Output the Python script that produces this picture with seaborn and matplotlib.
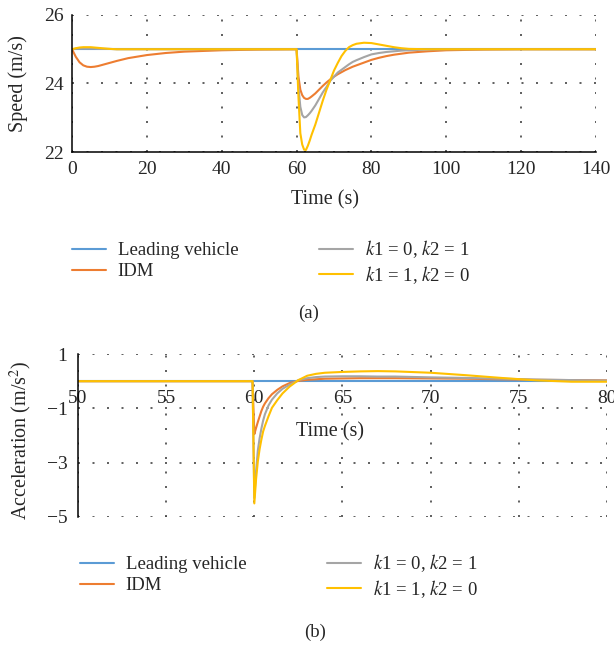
import matplotlib
matplotlib.use("Agg")
import matplotlib.pyplot as plt
import pandas as pd
import seaborn as sns

series_names = ["Leading vehicle", "IDM", "k1 = 0, k2 = 1", "k1 = 1, k2 = 0"]
legend_labels = ["Leading vehicle", "IDM", r"$k$1 = 0, $k$2 = 1", r"$k$1 = 1, $k$2 = 0"]
colors = ["#5b9bd5", "#ed7d31", "#a5a5a5", "#ffc000"]

# (a) speed, m/s
lead_time_a = [0, 140]
lead_speed = [25.0, 25.0]
time_a = [0, 1, 2, 3, 4, 5, 6, 7, 8, 10, 12, 15, 20, 25, 30, 35, 40, 50, 60,
          60.5, 61, 61.5, 62, 62.5, 63, 63.5, 64, 65, 66, 67, 68, 69, 70, 71,
          72, 73, 74, 75, 76, 78, 80, 82, 84, 86, 88, 90, 95, 100, 110, 120,
          130, 140]
idm_speed = [25.0, 24.78, 24.62, 24.53, 24.49, 24.48, 24.49, 24.51, 24.54,
             24.6, 24.66, 24.74, 24.83, 24.89, 24.93, 24.95, 24.97, 24.99, 25.0,
             24.2, 23.82, 23.66, 23.58, 23.55, 23.55, 23.58, 23.62, 23.71,
             23.82, 23.93, 24.03, 24.12, 24.2, 24.27, 24.33, 24.39, 24.44,
             24.49, 24.53, 24.61, 24.69, 24.75, 24.8, 24.84, 24.87, 24.9,
             24.94, 24.97, 24.99, 25.0, 25.0, 25.0]
k01_speed = [25.0, 25.01, 25.02, 25.02, 25.02, 25.02, 25.02, 25.01, 25.01,
             25.01, 25.0, 25.0, 25.0, 25.0, 25.0, 25.0, 25.0, 25.0, 25.0,
             23.9, 23.32, 23.08, 23.01, 23.02, 23.07, 23.13, 23.2, 23.36,
             23.55, 23.74, 23.9, 24.08, 24.2, 24.32, 24.4, 24.48, 24.56,
             24.63, 24.68, 24.77, 24.85, 24.89, 24.92, 24.94, 24.96, 24.97,
             24.99, 25.0, 25.0, 25.0, 25.0, 25.0]
k10_speed = [25.0, 25.03, 25.05, 25.06, 25.06, 25.06, 25.05, 25.04, 25.03,
             25.01, 25.0, 25.0, 25.0, 25.0, 25.0, 25.0, 25.0, 25.0, 25.0,
             23.6, 22.55, 22.22, 22.07, 22.06, 22.18, 22.33, 22.5, 22.8,
             23.15, 23.5, 23.82, 24.1, 24.38, 24.6, 24.8, 24.95, 25.06,
             25.12, 25.16, 25.19, 25.18, 25.14, 25.1, 25.06, 25.03, 25.01,
             25.0, 25.0, 25.0, 25.0, 25.0, 25.0]

# (b) acceleration, m/s^2
lead_time_b = [50, 80]
lead_acc = [0.0, 0.0]
time_b = [50, 59.9, 60.0, 60.1, 60.2, 60.3, 60.4, 60.5, 60.6, 60.8, 61.0,
          61.3, 61.6, 62.0, 62.5, 63, 63.5, 64, 65, 66, 67, 68, 70, 72, 74,
          76, 78, 80]
idm_acc = [0, 0, -1.95, -1.72, -1.5, -1.3, -1.1, -0.94, -0.82, -0.63, -0.48,
           -0.32, -0.19, -0.07, 0.01, 0.05, 0.07, 0.09, 0.1, 0.11, 0.11, 0.11,
           0.1, 0.09, 0.07, 0.05, 0.04, 0.03]
k01_acc = [0, 0, -4.3, -3.3, -2.55, -2.1, -1.75, -1.45, -1.22, -0.9, -0.68,
           -0.45, -0.28, -0.13, 0.04, 0.11, 0.15, 0.17, 0.18, 0.18, 0.17, 0.17,
           0.14, 0.12, 0.09, 0.06, 0.04, 0.02]
k10_acc = [0, 0, -4.5, -3.6, -2.95, -2.5, -2.15, -1.85, -1.65, -1.3, -0.98,
           -0.7, -0.45, -0.2, 0.04, 0.2, 0.27, 0.31, 0.34, 0.36, 0.37, 0.36,
           0.31, 0.22, 0.12, 0.03, -0.02, -0.02]


def long_frame(lead_t, lead_v, t, idm, k01, k10):
    parts = [pd.DataFrame({"t": lead_t, "v": lead_v, "s": series_names[0]})]
    for name, vals in zip(series_names[1:], [idm, k01, k10]):
        parts.append(pd.DataFrame({"t": t, "v": vals, "s": name}))
    return pd.concat(parts, ignore_index=True)


sns.set_style("white")
plt.rcParams["font.family"] = ["Liberation Serif", "DejaVu Serif"]
plt.rcParams["mathtext.fontset"] = "stix"
plt.rcParams["axes.unicode_minus"] = True

fig = plt.figure(figsize=(6.14, 6.46), dpi=100)
ax_a = fig.add_axes([0.1173, 0.7647, 0.8534, 0.2121])
ax_b = fig.add_axes([0.1270, 0.1997, 0.8616, 0.2523])

df_a = long_frame(lead_time_a, lead_speed, time_a, idm_speed, k01_speed, k10_speed)
df_b = long_frame(lead_time_b, lead_acc, time_b, idm_acc, k01_acc, k10_acc)

grid_kw = dict(color="#444444", linestyle=(0, (1.2, 7.5)), linewidth=1.2)

for ax, df in [(ax_a, df_a), (ax_b, df_b)]:
    sns.lineplot(data=df, x="t", y="v", hue="s", hue_order=series_names,
                 palette=colors, estimator=None, sort=False, linewidth=1.5,
                 legend=False, ax=ax)
    ax.set_axisbelow(True)
    ax.grid(True, **grid_kw)
    for side in ["top", "right"]:
        ax.spines[side].set_visible(False)
    ax.spines["left"].set_color("black")
    ax.spines["left"].set_linewidth(1.1)
    ax.tick_params(length=0, labelsize=14)

# panel (a)
ax_a.set_xlim(0, 140)
ax_a.set_ylim(22, 26)
ax_a.set_xticks(range(0, 141, 20))
ax_a.set_yticks([22, 24, 26])
ax_a.spines["bottom"].set_color("black")
ax_a.spines["bottom"].set_linewidth(1.1)
ax_a.tick_params(axis="x", pad=6.5)
ax_a.tick_params(axis="y", pad=6)
ax_a.set_xlabel("Time (s)", fontsize=14.5, va="center")
ax_a.xaxis.set_label_coords(0.483, -0.35)
ax_a.set_ylabel("Speed (m/s)", fontsize=14.5, va="center")
ax_a.yaxis.set_label_coords(-0.103, 0.5)

# panel (b)
ax_b.set_xlim(50, 80)
ax_b.set_ylim(-5, 1)
ax_b.set_xticks(range(50, 81, 5))
ax_b.set_yticks([1, -1, -3, -5])
ax_b.spines["bottom"].set_position(("data", 0))
ax_b.spines["bottom"].set_visible(False)
ax_b.tick_params(axis="x", pad=6.5)
ax_b.tick_params(axis="y", pad=7.5)
ax_b.set_xlabel("Time (s)", fontsize=14.5, va="center")
ax_b.xaxis.set_label_coords(0.476, 0.52)
ax_b.set_ylabel("Acceleration (m/s$^2$)", fontsize=14.5, va="center")
ax_b.yaxis.set_label_coords(-0.108, 0.47)

leg_kw = dict(loc="upper left", ncol=2, frameon=False, fontsize=13.5,
              handlelength=1.8, handletextpad=0.65, columnspacing=4.3,
              labelspacing=0.2, borderpad=0, borderaxespad=0)
fig.legend(ax_a.lines[:4], legend_labels, bbox_to_anchor=(0.117, 0.631), **leg_kw)
fig.legend(ax_b.lines[:4], legend_labels, bbox_to_anchor=(0.130, 0.145), **leg_kw)

fig.text(309 / 614, 1 - 313 / 646, "(a)", ha="center", va="center", fontsize=13.5)
fig.text(315 / 614, 1 - 632 / 646, "(b)", ha="center", va="center", fontsize=13.5)

fig.savefig("out.png", dpi=100)
